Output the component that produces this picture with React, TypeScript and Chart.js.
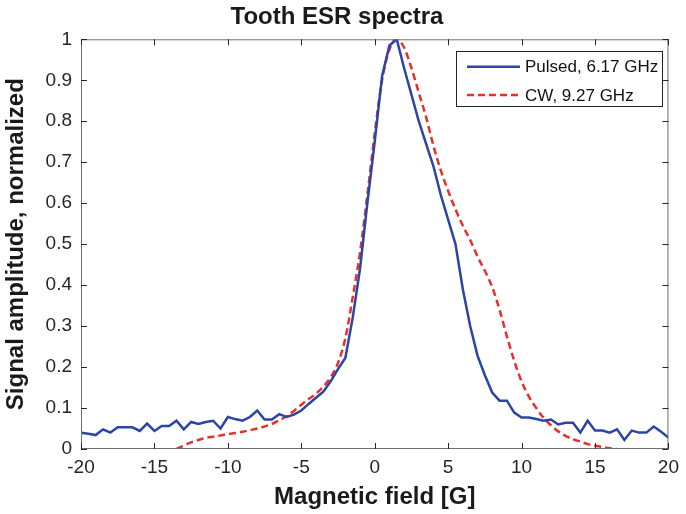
import React, { useEffect, useRef } from "react";
import { Chart, registerables } from "chart.js";

Chart.register(...registerables);

const TITLE = "Tooth ESR spectra";
const X_TITLE = "Magnetic field [G]";
const Y_TITLE = "Signal amplitude, normalized";

const pulsedLabel = "Pulsed, 6.17 GHz";
const cwLabel = "CW, 9.27 GHz";

const pulsedField = [
  -20, -19.5, -19, -18.5, -18, -17.5, -17, -16.5, -16, -15.5, -15, -14.5, -14, -13.5, -13, -12.5,
  -12, -11.5, -11, -10.5, -10, -9.5, -9, -8.5, -8, -7.5, -7, -6.5, -6, -5.5, -5, -4.5, -4, -3.5,
  -3, -2.5, -2, -1.5, -1, -0.5, 0, 0.5, 1, 1.5, 2, 2.5, 3, 3.5, 4, 4.5, 5, 5.5, 6, 6.5, 7, 7.5, 8,
  8.5, 9, 9.5, 10, 10.5, 11, 11.5, 12, 12.5, 13, 13.5, 14, 14.5, 15, 15.5, 16, 16.5, 17, 17.5, 18,
  18.5, 19, 19.5, 20,
];
const pulsedValues = [
  0.04, 0.037, 0.034, 0.048, 0.04, 0.053, 0.053, 0.053, 0.044, 0.062, 0.044, 0.056, 0.056, 0.069,
  0.048, 0.066, 0.061, 0.066, 0.069, 0.05, 0.078, 0.073, 0.069, 0.078, 0.094, 0.072, 0.072, 0.085,
  0.078, 0.084, 0.094, 0.11, 0.125, 0.14, 0.165, 0.195, 0.222, 0.32, 0.44, 0.6, 0.75, 0.91, 0.985,
  1.0, 0.93, 0.865, 0.8, 0.745, 0.69, 0.62, 0.56, 0.5, 0.39, 0.3, 0.228, 0.18, 0.138, 0.118, 0.118,
  0.089, 0.077, 0.077, 0.073, 0.069, 0.072, 0.06, 0.064, 0.064, 0.04, 0.069, 0.045, 0.045, 0.04,
  0.048, 0.022, 0.045, 0.04, 0.04, 0.055, 0.042, 0.028,
];

const cwField = [
  -13.5, -13, -12.5, -12, -11.5, -11, -10.5, -10, -9.5, -9, -8.5, -8, -7.5, -7, -6.5, -6, -5.5, -5,
  -4.5, -4, -3.5, -3, -2.5, -2, -1.5, -1, -0.5, 0, 0.5, 1, 1.5, 2, 2.5, 3, 3.5, 4, 4.5, 5, 5.5, 6,
  6.5, 7, 7.5, 8, 8.5, 9, 9.5, 10, 10.5, 11, 11.5, 12, 12.5, 13, 13.5, 14, 14.5, 15, 15.5, 16, 16.5,
];
const cwValues = [
  0.0, 0.008, 0.016, 0.022, 0.027, 0.03, 0.033, 0.036, 0.039, 0.042, 0.046, 0.05, 0.055, 0.061,
  0.07, 0.08, 0.093, 0.108, 0.122, 0.135, 0.152, 0.175, 0.21, 0.27, 0.37, 0.48, 0.62, 0.77, 0.9,
  0.975, 1.0, 0.98, 0.93, 0.87, 0.81, 0.74, 0.68, 0.63, 0.585, 0.545, 0.51, 0.47, 0.435, 0.395,
  0.34, 0.275, 0.215, 0.165, 0.128, 0.1, 0.076, 0.058, 0.043, 0.032, 0.024, 0.018, 0.012, 0.008,
  0.005, 0.002, 0.0,
];

const FONT = "'Liberation Sans', Arial, Helvetica, sans-serif";
const BLUE = "#2b44a6";
const RED = "#e6302a";
const AXIS_COLOR = "#6e6e6e";
const TICK_COLOR = "#262626";

const boxAndTicksPlugin = {
  id: "boxAndTicks",
  afterDraw(chart: any) {
    const { ctx, chartArea } = chart;
    const { left, right, top, bottom } = chartArea;
    const xs = chart.scales.x;
    const ys = chart.scales.y;
    ctx.save();
    ctx.strokeStyle = AXIS_COLOR;
    ctx.lineWidth = 1;
    ctx.strokeRect(left + 0.5, top + 0.5, right - left - 1, bottom - top - 1);
    ctx.strokeStyle = TICK_COLOR;
    ctx.beginPath();
    const len = 6;
    xs.ticks.forEach((t: any) => {
      const px = Math.round(xs.getPixelForValue(t.value)) + 0.5;
      ctx.moveTo(px, bottom);
      ctx.lineTo(px, bottom - len);
      ctx.moveTo(px, top);
      ctx.lineTo(px, top + len);
    });
    ys.ticks.forEach((t: any) => {
      const py = Math.round(ys.getPixelForValue(t.value)) + 0.5;
      ctx.moveTo(left, py);
      ctx.lineTo(left + len, py);
      ctx.moveTo(right, py);
      ctx.lineTo(right - len, py);
    });
    ctx.stroke();

    // legend
    const lx = 456.5, ly = 51.5, lw = 206, lh = 55;
    ctx.fillStyle = "#ffffff";
    ctx.fillRect(lx, ly, lw, lh);
    ctx.strokeStyle = "#222";
    ctx.lineWidth = 1;
    ctx.strokeRect(lx, ly, lw, lh);
    const rows = [66.7, 95];
    chart.data.datasets.forEach((ds: any, i: number) => {
      const y = rows[i];
      ctx.beginPath();
      ctx.strokeStyle = ds.borderColor;
      ctx.lineWidth = ds.borderWidth;
      ctx.setLineDash(ds.borderDash || []);
      ctx.moveTo(467, y);
      ctx.lineTo(520, y);
      ctx.stroke();
      ctx.setLineDash([]);
      ctx.fillStyle = "#111";
      ctx.font = `17px ${FONT}`;
      ctx.textBaseline = "middle";
      ctx.textAlign = "left";
      ctx.fillText(ds.label, 525, y + 1);
    });
    ctx.restore();
  },
};

export default function App() {
  const ref = useRef<HTMLCanvasElement | null>(null);
  useEffect(() => {
    document.body.style.margin = "0";
    const canvas = ref.current;
    if (!canvas) return;
    const chart = new Chart(canvas, {
      type: "line",
      data: {
        datasets: [
          {
            label: pulsedLabel,
            data: pulsedField.map((x, i) => ({ x, y: pulsedValues[i] })),
            borderColor: BLUE,
            borderWidth: 2.5,
            pointRadius: 0,
            tension: 0,
            fill: false,
          },
          {
            label: cwLabel,
            data: cwField.map((x, i) => ({ x, y: cwValues[i] })),
            borderColor: RED,
            borderWidth: 2.5,
            borderDash: [7, 4],
            pointRadius: 0,
            cubicInterpolationMode: "monotone",
            fill: false,
          },
        ],
      },
      options: {
        responsive: false,
        animation: false,
        layout: { padding: { left: 0, right: 12, top: 0, bottom: 0 } },
        plugins: {
          legend: { display: false },
          tooltip: { enabled: false },
          title: {
            display: true,
            text: TITLE,
            color: "#1a1a1a",
            font: { family: FONT, size: 24, weight: "bold", lineHeight: 1.2 },
            padding: { top: 3, bottom: 7.5 },
          },
        },
        scales: {
          x: {
            type: "linear",
            min: -20,
            max: 20,
            ticks: {
              stepSize: 5,
              color: TICK_COLOR,
              font: { family: FONT, size: 19 },
              padding: 7,
              maxRotation: 0,
              autoSkip: false,
            },
            grid: { drawOnChartArea: false, drawTicks: false },
            border: { display: false },
            title: {
              display: true,
              text: X_TITLE,
              color: "#1a1a1a",
              font: { family: FONT, size: 24, weight: "bold", lineHeight: 1.2 },
              padding: { top: 0, bottom: 2.6 },
            },
            afterFit: (s: any) => {
              s.height = 65;
            },
          },
          y: {
            type: "linear",
            min: 0,
            max: 1,
            ticks: {
              stepSize: 0.1,
              color: TICK_COLOR,
              font: { family: FONT, size: 19 },
              padding: 9,
              callback: (v: any) => String(Number(Number(v).toFixed(1))),
            },
            grid: { drawOnChartArea: false, drawTicks: false },
            border: { display: false },
            title: {
              display: true,
              text: Y_TITLE,
              color: "#1a1a1a",
              font: { family: FONT, size: 24, weight: "bold", lineHeight: 1.2 },
              padding: { top: 1.6, bottom: 0 },
            },
            afterFit: (s: any) => {
              s.width = 81;
            },
          },
        },
      },
      plugins: [boxAndTicksPlugin],
    } as any);
    return () => chart.destroy();
  }, []);
  return (
    <div style={{ width: 686, height: 514 }}>
      <canvas ref={ref} width={686} height={514} style={{ display: "block" }} />
    </div>
  );
}
